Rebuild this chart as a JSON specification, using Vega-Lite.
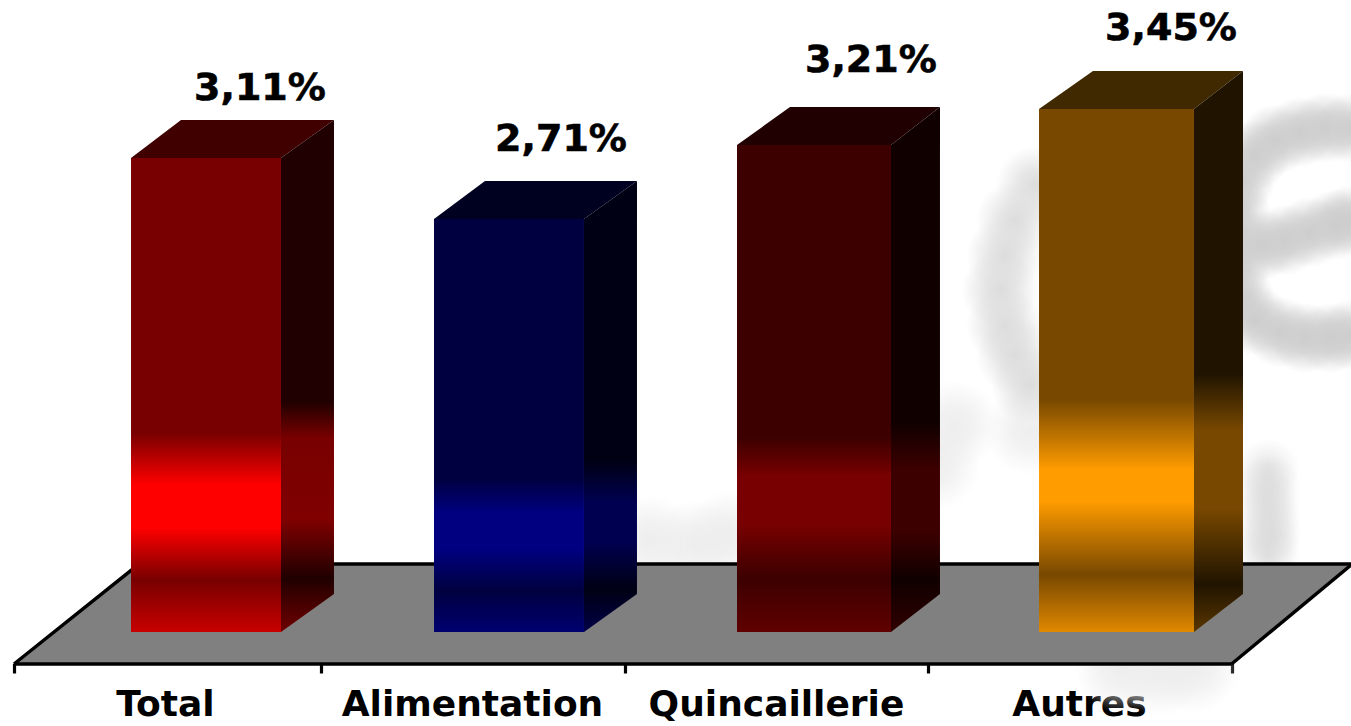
{
"$schema":"https://vega.github.io/schema/vega-lite/v6.json",
"width":1351,"height":726,"padding":0,"autosize":"none","background":"white",
"config":{"view":{"stroke":null}},
"data":{"values":[
{"part":"wmE","x":4.3923,"y":3.316},{"part":"wmE","x":4.3068,"y":3.316},{"part":"wmE","x":4.2247,"y":3.289},{"part":"wmE","x":4.1426,"y":3.237},{"part":"wmE","x":4.0769,"y":3.138},{"part":"wmE","x":4.0276,"y":2.974},{"part":"wmE","x":4.0112,"y":2.776},{"part":"wmE","x":4.0112,"y":2.579},{"part":"wmE","x":4.0112,"y":2.382},{"part":"wmE","x":4.0276,"y":2.184},{"part":"wmE","x":4.0769,"y":2.053},{"part":"wmE","x":4.159,"y":1.974},{"part":"wmE","x":4.2411,"y":1.934},{"part":"wmE","x":4.3233,"y":1.934},{"part":"wmE","x":4.3923,"y":1.954},
{"part":"wmE","x":4.1,"y":2.546},{"part":"wmE","x":4.1754,"y":2.579},{"part":"wmE","x":4.2576,"y":2.632},{"part":"wmE","x":4.3397,"y":2.678},{"part":"wmE","x":4.3923,"y":2.711},
{"part":"wmC","x":3.3541,"y":2.941},{"part":"wmC","x":3.2884,"y":2.711},{"part":"wmC","x":3.2556,"y":2.48},{"part":"wmC","x":3.2392,"y":2.25},{"part":"wmC","x":3.2556,"y":2.02},{"part":"wmC","x":3.2884,"y":1.822},{"part":"wmC","x":3.3377,"y":1.625},
{"part":"wmS","x":4.1196,"y":1.066},{"part":"wmS","x":4.1196,"y":0.967},{"part":"wmS","x":4.1196,"y":0.868},{"part":"wmS","x":4.1228,"y":0.77},{"part":"wmS","x":4.1261,"y":0.671},{"part":"wmS","x":4.1228,"y":0.59},{"part":"wmS","x":4.1196,"y":0.507},
{"part":"wmF","x":3.0913,"y":1.362},{"part":"wmF","x":3.0256,"y":1.099},{"part":"wmF","x":3.3377,"y":1.329},{"part":"wmF","x":2.0894,"y":0.605},{"part":"wmF","x":2.2372,"y":0.572},{"part":"wmF","x":2.3522,"y":0.638},{"part":"wmF","x":3.6334,"y":-0.237},{"part":"wmF","x":3.7648,"y":-0.263},{"part":"wmF","x":3.8798,"y":-0.237},
{"part":"floor","bar":"floor","x":0,"y":-0.2105,"y2":-0.2105},
{"part":"floor","bar":"floor","x":0.4106,"y":0.447,"y2":-0.2105},
{"part":"floor","bar":"floor","x":4,"y":0.447,"y2":-0.2105},
{"part":"floor","bar":"floor","x":4.3923,"y":0.44,"y2":0.44},
{"part":"edge","bar":"back","x":0,"y":-0.2105},
{"part":"edge","bar":"back","x":0.4106,"y":0.447},
{"part":"edge","bar":"back","x":4.3923,"y":0.447},
{"part":"edge","bar":"right","x":4,"y":-0.2105},
{"part":"edge","bar":"right","x":4.3923,"y":0.44},
{"part":"edge","bar":"front","x":0,"y":-0.2105},
{"part":"edge","bar":"front","x":4,"y":-0.2105},
{"part":"front","bar":"Total","x":0.3844,"x2":0.8771,"y":3.118,"y2":0},
{"part":"front","bar":"Alimentation","x":1.3798,"x2":1.8725,"y":2.717,"y2":0},
{"part":"front","bar":"Quincaillerie","x":2.3752,"x2":2.8811,"y":3.204,"y2":0},
{"part":"front","bar":"Autres","x":3.3673,"x2":3.8765,"y":3.441,"y2":0},
{"part":"side","bar":"Total","x":0.8771,"y":3.118,"y2":0},
{"part":"side","bar":"Total","x":1.0512,"y":3.368,"y2":0.25},
{"part":"side","bar":"Alimentation","x":1.8725,"y":2.717,"y2":0},
{"part":"side","bar":"Alimentation","x":2.0466,"y":2.967,"y2":0.25},
{"part":"side","bar":"Quincaillerie","x":2.8811,"y":3.204,"y2":0},
{"part":"side","bar":"Quincaillerie","x":3.042,"y":3.454,"y2":0.25},
{"part":"side","bar":"Autres","x":3.8765,"y":3.441,"y2":0},
{"part":"side","bar":"Autres","x":4.0375,"y":3.691,"y2":0.25},
{"part":"top","bar":"Total","x":0.3844,"y":3.118,"y2":3.118},
{"part":"top","bar":"Total","x":0.5486,"y":3.368,"y2":3.118},
{"part":"top","bar":"Total","x":0.8771,"y":3.368,"y2":3.118},
{"part":"top","bar":"Total","x":1.0512,"y":3.368,"y2":3.368},
{"part":"top","bar":"Alimentation","x":1.3798,"y":2.717,"y2":2.717},
{"part":"top","bar":"Alimentation","x":1.5473,"y":2.967,"y2":2.717},
{"part":"top","bar":"Alimentation","x":1.8725,"y":2.967,"y2":2.717},
{"part":"top","bar":"Alimentation","x":2.0466,"y":2.967,"y2":2.967},
{"part":"top","bar":"Quincaillerie","x":2.3752,"y":3.204,"y2":3.204},
{"part":"top","bar":"Quincaillerie","x":2.5493,"y":3.454,"y2":3.204},
{"part":"top","bar":"Quincaillerie","x":2.8811,"y":3.454,"y2":3.204},
{"part":"top","bar":"Quincaillerie","x":3.042,"y":3.454,"y2":3.454},
{"part":"top","bar":"Autres","x":3.3673,"y":3.441,"y2":3.441},
{"part":"top","bar":"Autres","x":3.5447,"y":3.691,"y2":3.441},
{"part":"top","bar":"Autres","x":3.8765,"y":3.691,"y2":3.441},
{"part":"top","bar":"Autres","x":4.0375,"y":3.691,"y2":3.691},
{"part":"label","bar":"Total","label":"3,11%","x":0.808,"y":3.57},
{"part":"label","bar":"Alimentation","label":"2,71%","x":1.797,"y":3.234},
{"part":"label","bar":"Quincaillerie","label":"3,21%","x":2.815,"y":3.754},
{"part":"label","bar":"Autres","label":"3,45%","x":3.801,"y":3.965}
]},
"encoding":{
"x":{"field":"x","type":"quantitative","title":null,
 "scale":{"domain":[-0.046,4.3923],"nice":false,"zero":false},
 "axis":{"values":[0,1.0085,2.0072,3.0026,4],"offset":-62.5,"grid":false,"domain":false,"tickColor":"black","tickWidth":3.2,"tickSize":9.5,
 "labelExpr":"datum.value<0.5?'Total':datum.value<1.5?'Alimentation':datum.value<2.5?'Quincaillerie':datum.value<3.5?'Autres':''",
 "labelOffset":151,"labelFont":"DejaVu Sans","labelFontWeight":"bold","labelFontSize":36,"labelColor":"black","labelPadding":14,"labelLimit":1000,"labelOverlap":false,"labelBound":false,"labelFlush":false,"labelAngle":0,"labelAlign":"center",
 "encoding":{"labels":{"update":{"stroke":{"value":"black"},"strokeWidth":{"value":0.8}}}}}},
"y":{"field":"y","type":"quantitative","title":null,"axis":null,"scale":{"domain":[-0.6184,4.1579],"nice":false,"zero":false}}
},
"layer":[
{"transform":[{"filter":"datum.part=='wmF'"}],"mark":{"type":"point","shape":"circle","filled":true,"opacity":1,"size":8000,"fill":{"gradient":"radial","x1":0.5,"y1":0.5,"r1":0,"x2":0.5,"y2":0.5,"r2":0.5,"stops":[{"offset":0,"color":"rgba(236,236,236,0.9)"},{"offset":0.4,"color":"rgba(236,236,236,0.7)"},{"offset":1,"color":"rgba(236,236,236,0)"}]}}},
{"transform":[{"filter":"datum.part=='wmC'"}],"mark":{"type":"point","shape":"circle","filled":true,"opacity":1,"size":6000,"fill":{"gradient":"radial","x1":0.5,"y1":0.5,"r1":0,"x2":0.5,"y2":0.5,"r2":0.5,"stops":[{"offset":0,"color":"rgba(220,220,220,1)"},{"offset":0.4,"color":"rgba(220,220,220,0.7)"},{"offset":1,"color":"rgba(220,220,220,0)"}]}}},
{"transform":[{"filter":"datum.part=='wmS'"}],"mark":{"type":"point","shape":"circle","filled":true,"opacity":1,"size":4000,"fill":{"gradient":"radial","x1":0.5,"y1":0.5,"r1":0,"x2":0.5,"y2":0.5,"r2":0.5,"stops":[{"offset":0,"color":"rgba(216,216,216,0.7)"},{"offset":0.4,"color":"rgba(216,216,216,0.4)"},{"offset":1,"color":"rgba(216,216,216,0)"}]}}},
{"transform":[{"filter":"datum.part=='wmE'"}],"mark":{"type":"point","shape":"circle","filled":true,"opacity":1,"size":5000,"fill":{"gradient":"radial","x1":0.5,"y1":0.5,"r1":0,"x2":0.5,"y2":0.5,"r2":0.5,"stops":[{"offset":0,"color":"rgba(205,205,205,1)"},{"offset":0.4,"color":"rgba(205,205,205,0.75)"},{"offset":1,"color":"rgba(205,205,205,0)"}]}}},
{"transform":[{"filter":"datum.part=='floor'"}],"mark":{"type":"area","orient":"vertical","color":"#808080"},"encoding":{"y2":{"field":"y2"}}},
{"transform":[{"filter":"datum.part=='edge'"}],"mark":{"type":"line","color":"black","strokeWidth":3.4},"encoding":{"detail":{"field":"bar"}}},
{"transform":[{"filter":"datum.part=='top'"}],"mark":{"type":"area","orient":"vertical"},"encoding":{"y2":{"field":"y2"},"color":{"field":"bar","type":"nominal","legend":null,"scale":{"domain":["Total","Alimentation","Quincaillerie","Autres"],"range":["#400000","#000020","#200000","#402800"]}}}},
{"transform":[{"filter":"datum.part=='side' && datum.bar=='Total'"}],"mark":{"type":"area","orient":"vertical","color":{"gradient":"linear","x1":0,"y1":0,"x2":0,"y2":1,"stops":[{"offset":0,"color":"#200000"},{"offset":0.55,"color":"#200000"},{"offset":0.62,"color":"#780000"},{"offset":0.78,"color":"#800000"},{"offset":0.895,"color":"#200000"},{"offset":1,"color":"#700000"}]}},"encoding":{"y2":{"field":"y2"}}},
{"transform":[{"filter":"datum.part=='side' && datum.bar=='Alimentation'"}],"mark":{"type":"area","orient":"vertical","color":{"gradient":"linear","x1":0,"y1":0,"x2":0,"y2":1,"stops":[{"offset":0,"color":"#000014"},{"offset":0.62,"color":"#000014"},{"offset":0.71,"color":"#000050"},{"offset":0.8,"color":"#000050"},{"offset":0.907,"color":"#000014"},{"offset":1,"color":"#000048"}]}},"encoding":{"y2":{"field":"y2"}}},
{"transform":[{"filter":"datum.part=='side' && datum.bar=='Quincaillerie'"}],"mark":{"type":"area","orient":"vertical","color":{"gradient":"linear","x1":0,"y1":0,"x2":0,"y2":1,"stops":[{"offset":0,"color":"#100000"},{"offset":0.6,"color":"#100000"},{"offset":0.69,"color":"#3c0000"},{"offset":0.81,"color":"#3c0000"},{"offset":0.9,"color":"#100000"},{"offset":1,"color":"#300000"}]}},"encoding":{"y2":{"field":"y2"}}},
{"transform":[{"filter":"datum.part=='side' && datum.bar=='Autres'"}],"mark":{"type":"area","orient":"vertical","color":{"gradient":"linear","x1":0,"y1":0,"x2":0,"y2":1,"stops":[{"offset":0,"color":"#201400"},{"offset":0.54,"color":"#201400"},{"offset":0.64,"color":"#784800"},{"offset":0.78,"color":"#784800"},{"offset":0.915,"color":"#201400"},{"offset":1,"color":"#5a3600"}]}},"encoding":{"y2":{"field":"y2"}}},
{"transform":[{"filter":"datum.part=='front' && datum.bar=='Total'"}],"mark":{"type":"rect","fill":{"gradient":"linear","x1":0,"y1":0,"x2":0,"y2":1,"stops":[{"offset":0,"color":"#780000"},{"offset":0.58,"color":"#780000"},{"offset":0.69,"color":"#ff0000"},{"offset":0.78,"color":"#ff0000"},{"offset":0.89,"color":"#780000"},{"offset":1,"color":"#c80000"}]}},"encoding":{"x2":{"field":"x2"},"y2":{"field":"y2"}}},
{"transform":[{"filter":"datum.part=='front' && datum.bar=='Alimentation'"}],"mark":{"type":"rect","fill":{"gradient":"linear","x1":0,"y1":0,"x2":0,"y2":1,"stops":[{"offset":0,"color":"#000040"},{"offset":0.63,"color":"#000040"},{"offset":0.71,"color":"#000080"},{"offset":0.8,"color":"#000080"},{"offset":0.9,"color":"#000040"},{"offset":1,"color":"#000070"}]}},"encoding":{"x2":{"field":"x2"},"y2":{"field":"y2"}}},
{"transform":[{"filter":"datum.part=='front' && datum.bar=='Quincaillerie'"}],"mark":{"type":"rect","fill":{"gradient":"linear","x1":0,"y1":0,"x2":0,"y2":1,"stops":[{"offset":0,"color":"#3c0000"},{"offset":0.6,"color":"#3c0000"},{"offset":0.68,"color":"#780000"},{"offset":0.78,"color":"#780000"},{"offset":0.89,"color":"#3c0000"},{"offset":1,"color":"#600000"}]}},"encoding":{"x2":{"field":"x2"},"y2":{"field":"y2"}}},
{"transform":[{"filter":"datum.part=='front' && datum.bar=='Autres'"}],"mark":{"type":"rect","fill":{"gradient":"linear","x1":0,"y1":0,"x2":0,"y2":1,"stops":[{"offset":0,"color":"#784800"},{"offset":0.556,"color":"#784800"},{"offset":0.69,"color":"#ff9c00"},{"offset":0.75,"color":"#ff9c00"},{"offset":0.89,"color":"#784800"},{"offset":1,"color":"#e08800"}]}},"encoding":{"x2":{"field":"x2"},"y2":{"field":"y2"}}},
{"transform":[{"filter":"datum.part=='label'"}],"mark":{"type":"text","font":"DejaVu Sans","fontWeight":"bold","fontSize":38,"color":"black","stroke":"black","strokeWidth":0.6,"baseline":"middle","align":"center"},"encoding":{"text":{"field":"label"}}}
]
}
